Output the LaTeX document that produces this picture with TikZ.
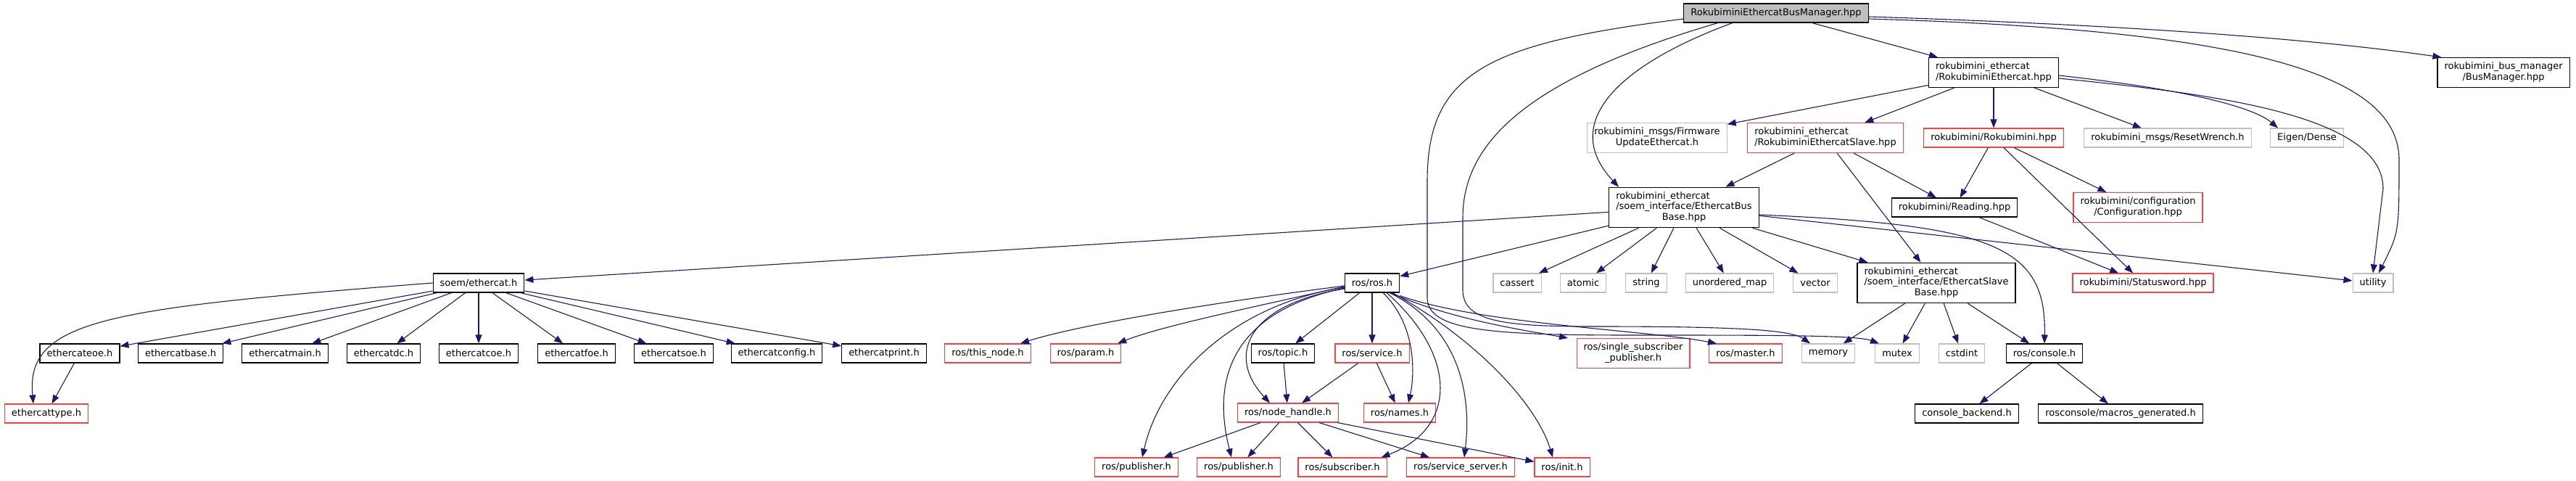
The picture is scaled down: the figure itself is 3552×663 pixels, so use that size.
\documentclass[tikz,border=0pt]{standalone}
\usepackage{fontspec}
\setmainfont{DejaVu Sans}
\usepackage{tikz}
\usetikzlibrary{arrows.meta}

\definecolor{edgeblue}{HTML}{191970}
\definecolor{sysgray}{HTML}{BFBFBF}
\definecolor{truncred}{HTML}{FF4040}
% first lines left, last line centred (as dot does it)
\newcommand{\mlab}[2]{\begin{tabular}{@{}l@{}}#1\\\multicolumn{1}{@{}c@{}}{#2}\end{tabular}}

\begin{document}
\begin{tikzpicture}[x=1pt,y=-1pt,>={Triangle[length=12pt,width=9pt]},
  font=\fontsize{13}{14.5}\selectfont,
  hdr/.style={draw=black,fill=white,line width=1.1pt,inner xsep=9.5pt,inner ysep=6pt,minimum height=26pt},
  syshdr/.style={hdr,draw=sysgray},
  redhdr/.style={hdr,draw=truncred},
  dep/.style={->,edgeblue,line width=1.1pt}]
\useasboundingbox (0,0) rectangle (3552,663);
% top rows
\node[hdr,fill=sysgray] (root) at (2449,18) {RokubiminiEthercatBusManager.hpp};
\node[hdr] (ethcat) at (2749,100) {\mlab{rokubimini\_ethercat}{/RokubiminiEthercat.hpp}};
\node[hdr] (busmgr) at (3452,100) {\mlab{rokubimini\_bus\_manager}{/BusManager.hpp}};
\node[syshdr] (fwupd) at (2285,190) {\mlab{rokubimini\_msgs/Firmware}{UpdateEthercat.h}};
\node[redhdr] (slave) at (2517,190) {\mlab{rokubimini\_ethercat}{/RokubiminiEthercatSlave.hpp}};
\node[redhdr] (rokubi) at (2749,190) {rokubimini/Rokubimini.hpp};
\node[syshdr] (wrench) at (2989,190) {rokubimini\_msgs/ResetWrench.h};
\node[syshdr] (eigen) at (3181,190) {Eigen/Dense};
\node[hdr] (busbase) at (2322,286) {\mlab{rokubimini\_ethercat\\/soem\_interface/EthercatBus}{Base.hpp}};
\node[hdr] (reading) at (2695,286) {rokubimini/Reading.hpp};
\node[redhdr] (config) at (2948,286) {\mlab{rokubimini/configuration}{/Configuration.hpp}};
% middle row
\node[hdr] (soem) at (660,390) {soem/ethercat.h};
\node[hdr] (rosh) at (1892,390) {ros/ros.h};
\foreach \n/\x/\t in {cassert/2092/cassert,atomic/2183/atomic,string/2270/string,umap/2385/unordered\_map,vector/2503/vector}
  \node[syshdr] (\n) at (\x,390) {\t};
\node[hdr] (slavebase) at (2670,390) {\mlab{rokubimini\_ethercat\\/soem\_interface/EthercatSlave}{Base.hpp}};
\node[redhdr] (status) at (2955,390) {rokubimini/Statusword.hpp};
\node[syshdr] (utility) at (3272,390) {utility};
% soem headers
\foreach \n/\x in {eoe/110,base/249,main/393,dc/529,coe/660,foe/795,soe/929,config/1071,print/1219}
  \node[hdr] (ec\n) at (\x,487) {ethercat\n.h};
\node[redhdr] (ectype) at (64,570) {ethercattype.h};
% ros headers
\node[redhdr] (thisnode) at (1362,487) {ros/this\_node.h};
\node[redhdr] (param) at (1497,487) {ros/param.h};
\node[hdr] (topic) at (1769,487) {ros/topic.h};
\node[redhdr] (service) at (1892,487) {ros/service.h};
\node[redhdr] (singlesub) at (2252,487) {\mlab{ros/single\_subscriber}{\_publisher.h}};
\node[redhdr] (master) at (2407,487) {ros/master.h};
\node[syshdr] (memory) at (2521,487) {memory};
\node[syshdr] (mutex) at (2616,487) {mutex};
\node[syshdr] (cstdint) at (2705,487) {cstdint};
\node[hdr] (console) at (2819,487) {ros/console.h};
\node[redhdr] (nodehandle) at (1776,569) {ros/node\_handle.h};
\node[redhdr] (names) at (1930,569) {ros/names.h};
\node[hdr] (backend) at (2712,570) {console\_backend.h};
\node[hdr] (macros) at (2924,570) {rosconsole/macros\_generated.h};
\node[redhdr] (pubA) at (1567,644) {ros/publisher.h};
\node[redhdr] (pubB) at (1708,644) {ros/publisher.h};
\node[redhdr] (subscr) at (1851,644) {ros/subscriber.h};
\node[redhdr] (srvserver) at (2014,644) {ros/service\_server.h};
\node[redhdr] (init) at (2154,644) {ros/init.h};

% includes of the root file
\draw[dep] (root) -- (ethcat);
\draw[dep] ([yshift=-5pt]root.east) .. controls (2950,35) and (3200,55) .. ([xshift=6pt]busmgr.north west);
\draw[dep] ([yshift=-8pt]root.east) .. controls (3050,40) and (3308,90) .. (3308,220) .. controls (3308,320) .. ([xshift=8pt]utility.north);
\draw[dep] ([xshift=-60pt]root.south) .. controls (2230,90) and (2150,170) .. ([xshift=-90pt]busbase.north);
\draw[dep] ([xshift=-80pt]root.south) .. controls (2100,110) and (2017,200) .. (2017,300) -- (2017,400) .. controls (2017,445) and (2080,450) .. (2200,450) .. controls (2400,450) and (2470,455) .. ([xshift=-25pt]memory.north);
\draw[dep] ([yshift=-8pt]root.west) .. controls (2050,60) and (1968,100) .. (1968,250) -- (1968,410) .. controls (1968,455) and (2050,462) .. (2250,462) .. controls (2450,462) and (2560,462) .. ([xshift=-25pt]mutex.north);
% rokubimini_ethercat
\foreach \t in {fwupd,slave,rokubi,wrench} \draw[dep] (ethcat) -- (\t);
\draw[dep] ([yshift=-4pt]ethcat.east) .. controls (3030,125) and (3110,150) .. ([xshift=-40pt]eigen.north);
\draw[dep] ([yshift=-8pt]ethcat.east) .. controls (3060,130) and (3286,160) .. (3286,260) -- (utility.north);
\foreach \t in {busbase,reading,slavebase} \draw[dep] (slave) -- (\t);
\foreach \t in {reading,status,config} \draw[dep] (rokubi) -- (\t);
\draw[dep] (reading) -- (status);
% bus base
\draw[dep] (busbase) -- (soem);
\draw[dep] (busbase) -- (rosh);
\foreach \t in {cassert,atomic,string,umap,vector,slavebase,utility} \draw[dep] (busbase) -- (\t);
\draw[dep] ([yshift=-10pt]busbase.east) .. controls (2750,310) and (2822,340) .. (console.north);
\foreach \t in {memory,mutex,cstdint,console} \draw[dep] (slavebase) -- (\t);
\draw[dep] (console) -- (backend);
\draw[dep] (console) -- (macros);
% soem
\draw[dep] (soem.west) .. controls (150,425) and (35,440) .. ([xshift=-18pt]ectype.north);
\foreach \n in {eoe,base,main,dc,coe,foe,soe,config,print} \draw[dep] (soem) -- (ec\n);
\draw[dep] (eceoe) -- (ectype);
% ros
\draw[dep] ([yshift=-4pt]rosh.west) .. controls (1650,420) and (1480,450) .. ([xshift=45pt]thisnode.north);
\draw[dep] ([yshift=-5pt]rosh.west) .. controls (1720,425) and (1600,450) .. ([xshift=44pt]param.north);
\draw[dep] (rosh) -- (topic);
\draw[dep] (rosh) -- (service);
\draw[dep] ([yshift=-8pt]rosh.west) .. controls (1720,420) and (1690,490) .. ([xshift=-25pt]nodehandle.north);
\draw[dep] ([yshift=-6pt]rosh.west) .. controls (1700,420) and (1600,520) .. ([xshift=8pt]pubA.north);
\draw[dep] ([yshift=-7pt]rosh.west) .. controls (1700,430) and (1670,520) .. ([xshift=-10pt]pubB.north);
\draw[dep] ([xshift=15pt]rosh.south) .. controls (1955,450) and (1950,520) .. ([xshift=12pt]names.north);
\draw[dep] ([xshift=20pt]rosh.south) .. controls (2010,490) and (2010,590) .. ([xshift=-8pt]subscr.north east);
\draw[dep] ([xshift=24pt]rosh.south) .. controls (2010,450) and (2030,540) .. ([xshift=5pt]srvserver.north);
\draw[dep] ([xshift=28pt]rosh.south) .. controls (2040,470) and (2120,560) .. ([xshift=-13pt]init.north);
\draw[dep] ([xshift=25pt]rosh.south) .. controls (2000,440) and (2100,455) .. ([xshift=-90pt]singlesub.north);
\draw[dep] ([yshift=-4pt]rosh.south east) .. controls (2042,447) and (2271,455) .. ([xshift=-40pt]master.north);
\draw[dep] (topic) -- (nodehandle);
\draw[dep] (service) -- (nodehandle);
\draw[dep] (service) -- (names);
\foreach \t in {pubA,pubB,subscr,srvserver,init} \draw[dep] (nodehandle) -- (\t);
\end{tikzpicture}
\end{document}
